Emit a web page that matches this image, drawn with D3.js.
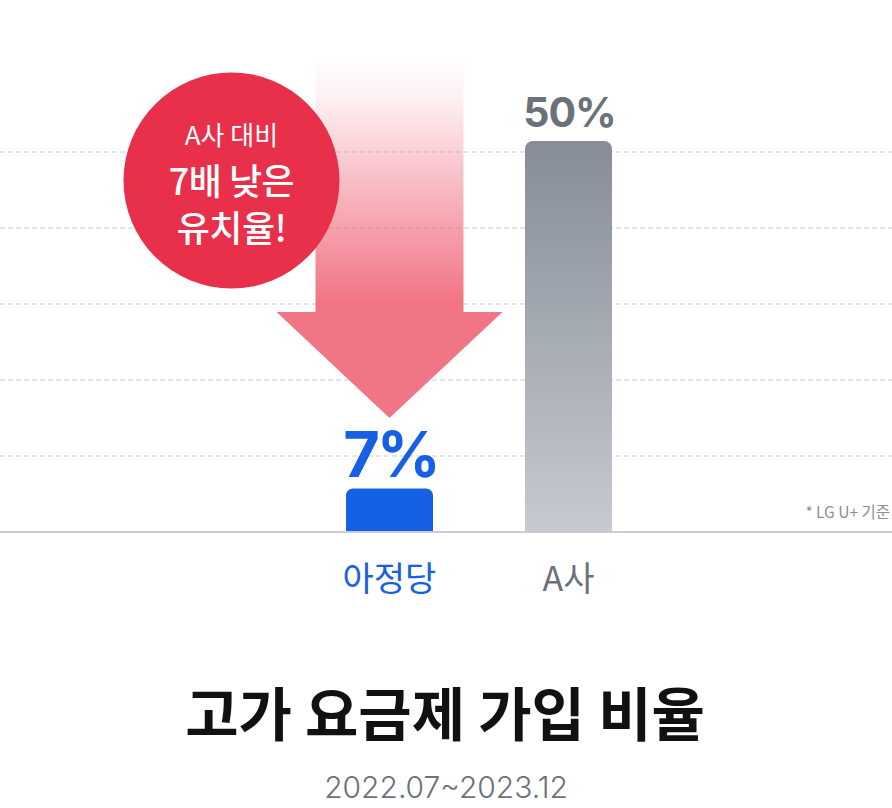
<!DOCTYPE html>
<html>
<head>
<meta charset="utf-8">
<script src="https://cdn.jsdelivr.net/npm/d3@7"></script>
<style>
  html, body { margin: 0; padding: 0; background: #ffffff; }
  svg { display: block; }
</style>
</head>
<body>
<svg id="chart" width="892" height="808"></svg>
<script>
// ---- data ----
const categories = ["아정당", "A사"];
const values = [7, 50];
const valueLabels = ["7%", "50%"];
const gridTicks = [1, 2, 3, 4, 5];
const title = "고가 요금제 가입 비율";
const subtitle = "2022.07~2023.12";
const note = "* LG U+ 기준";
const badgeLines = ["A사 대비", "7배 낮은", "유치율!"];

// ---- layout ----
const W = 892, H = 808;
const baseY = 532;
const svg = d3.select("#chart");
const KR = "'Noto Sans CJK KR', 'Noto Sans', sans-serif";
const NUM = "Inter, 'Noto Sans', sans-serif";

const x = d3.scaleBand().domain(categories).range([346, 612]).paddingInner(0.514).paddingOuter(0);
const y = d3.scaleLinear().domain([1.6, 50]).range([baseY, 141]);
const gy = d3.scaleLinear().domain([0, 5]).range([baseY, 152]);

const barColors = ["#1660E6", null];
const labelColors = ["#1660E6", "#6B717A"];

const defs = svg.append("defs");
const gg = defs.append("linearGradient").attr("id", "grayGrad")
  .attr("x1", 0).attr("y1", 0).attr("x2", 0).attr("y2", 1);
gg.append("stop").attr("offset", 0).attr("stop-color", "#868D97");
gg.append("stop").attr("offset", 1).attr("stop-color", "#C6CAD1");

const ag = defs.append("linearGradient").attr("id", "arrowGrad")
  .attr("gradientUnits", "userSpaceOnUse")
  .attr("x1", 0).attr("y1", 55).attr("x2", 0).attr("y2", 418);
ag.append("stop").attr("offset", 0).attr("stop-color", "#EF697B").attr("stop-opacity", 0.0);
ag.append("stop").attr("offset", 0.12).attr("stop-color", "#EF697B").attr("stop-opacity", 0.1);
ag.append("stop").attr("offset", 0.68).attr("stop-color", "#EF697B").attr("stop-opacity", 0.92);
ag.append("stop").attr("offset", 1).attr("stop-color", "#EF697B").attr("stop-opacity", 0.92);

// grid
svg.append("g").selectAll("line").data(gridTicks).join("line")
  .attr("x1", 0).attr("x2", W)
  .attr("y1", d => gy(d)).attr("y2", d => gy(d))
  .attr("stroke", "#DCDFE4").attr("stroke-width", 1.5)
  .attr("stroke-dasharray", "5 3");

// bars (rounded top)
function barPath(cx0, w, top, bottom, r) {
  const p = d3.path();
  p.moveTo(cx0, bottom);
  p.lineTo(cx0, top + r);
  p.arcTo(cx0, top, cx0 + r, top, r);
  p.lineTo(cx0 + w - r, top);
  p.arcTo(cx0 + w, top, cx0 + w, top + r, r);
  p.lineTo(cx0 + w, bottom);
  p.closePath();
  return p.toString();
}
svg.append("g").selectAll("path").data(categories).join("path")
  .attr("d", (c, i) => barPath(x(c), x.bandwidth(), y(values[i]), baseY, i === 0 ? 7 : 8))
  .attr("fill", (c, i) => barColors[i] || "url(#grayGrad)");

// baseline
svg.append("line").attr("x1", 0).attr("x2", W).attr("y1", baseY).attr("y2", baseY)
  .attr("stroke", "#C9CDD3").attr("stroke-width", 2);

// arrow annotation (pointing at first bar)
const acx = x(categories[0]) + x.bandwidth() / 2;
const shaftW = 148, headW = 226, shaftTop = 55, headY = 312, tipY = 418;
const ap = d3.path();
ap.moveTo(acx - shaftW / 2, shaftTop);
ap.lineTo(acx + shaftW / 2, shaftTop);
ap.lineTo(acx + shaftW / 2, headY);
ap.lineTo(acx + headW / 2, headY);
ap.lineTo(acx, tipY);
ap.lineTo(acx - headW / 2, headY);
ap.lineTo(acx - shaftW / 2, headY);
ap.closePath();
svg.append("path").attr("d", ap.toString()).attr("fill", "url(#arrowGrad)");

// value labels
svg.append("g").selectAll("text").data(categories).join("text")
  .attr("x", c => x(c) + x.bandwidth() / 2 + 1)
  .attr("y", (c, i) => y(values[i]) - (i === 0 ? 11 : 14))
  .attr("text-anchor", "middle")
  .attr("font-family", NUM).attr("font-weight", 700)
  .attr("font-size", (c, i) => i === 0 ? 63 : 41)
  .attr("letter-spacing", (c, i) => i === 0 ? -3 : -1)
  .attr("fill", (c, i) => labelColors[i])
  .text((c, i) => valueLabels[i]);

// category labels
svg.append("g").selectAll("text").data(categories).join("text")
  .attr("x", c => x(c) + x.bandwidth() / 2)
  .attr("y", 591)
  .attr("text-anchor", "middle")
  .attr("font-family", KR).attr("font-weight", 400)
  .attr("font-size", 34)
  .attr("fill", (c, i) => labelColors[i])
  .text(c => c);

// note
svg.append("text").attr("x", 890).attr("y", 518)
  .attr("text-anchor", "end").attr("font-family", KR).attr("font-size", 15.5)
  .attr("fill", "#8A8F96").text(note);

// badge
const bcx = 231.5, bcy = 180.5, br = 108;
svg.append("circle").attr("cx", bcx).attr("cy", bcy).attr("r", br).attr("fill", "#E8304A");
const bt = svg.append("g").attr("font-family", KR).attr("fill", "#FFFFFF").attr("text-anchor", "middle");
bt.append("text").attr("x", bcx).attr("y", 145).attr("font-size", 26).attr("font-weight", 400)
  .text(badgeLines[0]);
bt.append("text").attr("x", bcx).attr("y", 195).attr("font-size", 36).attr("font-weight", 500)
  .attr("letter-spacing", -0.5).text(badgeLines[1]);
bt.append("text").attr("x", bcx).attr("y", 242).attr("font-size", 36).attr("font-weight", 500)
  .attr("letter-spacing", -0.5).text(badgeLines[2]);

// title & subtitle
svg.append("text").attr("x", 445).attr("y", 736)
  .attr("text-anchor", "middle").attr("font-family", KR).attr("font-weight", 700)
  .attr("font-size", 58).attr("letter-spacing", 0).attr("fill", "#111111").text(title);
svg.append("text").attr("x", 446).attr("y", 798)
  .attr("text-anchor", "middle").attr("font-family", NUM).attr("font-weight", 300)
  .attr("font-size", 30).attr("fill", "#6B717A").text(subtitle);
</script>
</body>
</html>
